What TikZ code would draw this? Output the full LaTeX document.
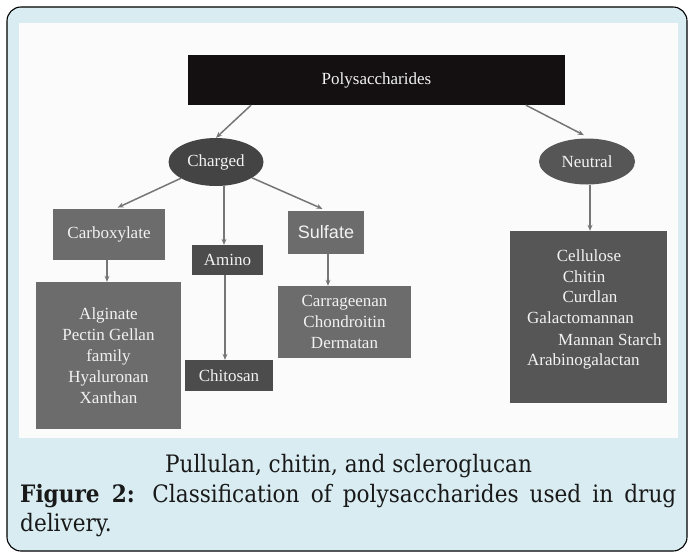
\documentclass[tikz,border=0pt]{standalone}
\usepackage{fontspec}
\setmainfont{Liberation Serif}
\newfontfamily\capfont{DejaVu Serif Condensed}
\newfontfamily\sansf{Liberation Sans}
\usetikzlibrary{shapes.geometric,arrows.meta}
\definecolor{panelblue}{RGB}{216,236,242}
\definecolor{boxblack}{RGB}{20,16,18}
\definecolor{ellA}{RGB}{68,68,68}
\definecolor{ellB}{RGB}{86,86,86}
\definecolor{midgray}{RGB}{108,108,108}
\definecolor{darkgray}{RGB}{76,76,76}
\definecolor{nbgray}{RGB}{86,86,86}
\definecolor{arrgray}{RGB}{118,118,118}
\definecolor{boxtext}{RGB}{242,242,242}
\definecolor{captext}{RGB}{25,25,25}
\definecolor{paper}{RGB}{251,251,251}
\tikzset{
  diag/.style={font=\fontsize{17}{21}\selectfont, text=boxtext, inner sep=0pt},
  rbox/.style={diag, rectangle, minimum width=#1},
  ell/.style={diag, ellipse},
  arr/.style={draw=arrgray, line width=1.5pt, -{Stealth[length=6pt,width=5pt]}},
  captxt/.style={font=\capfont\fontsize{24}{29}\selectfont, text=captext, inner sep=0pt}
}
\begin{document}
\begin{tikzpicture}[x=1pt,y=-1pt]
\useasboundingbox (0,0) rectangle (688,552);
% panel
\draw[fill=panelblue, line width=1.1pt, rounded corners=14pt] (7,7) rectangle (687,551);
\fill[paper] (19,23) rectangle (678,438);

% nodes
\node[rbox=377pt, minimum height=50pt, fill=boxblack] (poly) at (376.5,80) {Polysaccharides};
\node[ell, minimum width=95pt, minimum height=48pt, fill=ellA] (ch) at (216,162) {Charged};
\node[ell, minimum width=96pt, minimum height=46pt, fill=ellB] (ne) at (587,161.5) {Neutral};

\node[rbox=112pt, minimum height=51pt, fill=midgray] (carb) at (109,234.5) {Carboxylate};
\node[rbox=71pt, minimum height=30pt, fill=darkgray] (am) at (227.5,260) {Amino};
\node[rbox=76pt, minimum height=43pt, fill=midgray, font=\sansf\fontsize{18}{21}\selectfont] (sulf) at (326,232.5) {Sulfate};

\node[rbox=145pt, minimum height=147pt, fill=midgray, align=center] (alg) at (108.5,355.5)
  {Alginate\\Pectin Gellan\\family\\Hyaluronan\\Xanthan};
\node[rbox=88pt, minimum height=31pt, fill=darkgray] (chit) at (229,375.5) {Chitosan};
\node[rbox=133pt, minimum height=72pt, fill=midgray, align=center] (carr) at (344.5,322)
  {Carrageenan\\Chondroitin\\Dermatan};
\node[rbox=157pt, minimum height=172pt, fill=nbgray] (nb) at (588.5,317) {};
\node[diag] (n1) at (589,256) {Cellulose};
\node[diag] (n2) at (584,277) {Chitin};
\node[diag] (n3) at (590,297) {Curdlan};
\node[diag, anchor=west] (n4) at (527,318) {Galactomannan};
\node[diag, anchor=west] (n5) at (558,340) {Mannan Starch};
\node[diag, anchor=west] (n6) at (527,361) {Arabinogalactan};

% connectors
\draw[arr] ([xshift=-125.5pt]poly.south) -- (ch.north);
\draw[arr, shorten >=7pt] ([xshift=149.5pt]poly.south) -- ([xshift=3pt]ne.north);
\draw[arr, shorten >=3pt] (ch) -- ([xshift=6pt]carb.north);
\draw[arr] ([xshift=8pt]ch.south) -- ([xshift=-3.5pt]am.north);
\draw[arr, shorten >=5pt] (ch) -- ([xshift=1pt]sulf.north);
\draw[arr] ([xshift=-2pt]carb.south) -- ([xshift=-1.5pt]alg.north);
\draw[arr] ([xshift=-2.5pt]am.south) -- ([xshift=-4pt]chit.north);
\draw[arr] ([xshift=2pt]sulf.south) -- ([xshift=-16.5pt]carr.north);
\draw[arr] ([xshift=3pt]ne.south) -- ([xshift=1.5pt]nb.north);

% caption
\node[captxt, anchor=base] (c1) at (348.5,472) {Pullulan, chitin, and scleroglucan};
\node[captxt, anchor=base west, text width=656pt, align=justify] (c2) at (20,502)
  {\textbf{Figure 2:} Classification of polysaccharides used in drug\linebreak delivery.};
\end{tikzpicture}
\end{document}
